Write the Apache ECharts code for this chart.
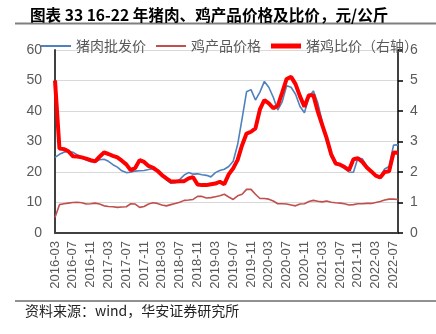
<!DOCTYPE html>
<html>
<head>
<meta charset="utf-8">
<script src="https://cdn.jsdelivr.net/npm/echarts@6/dist/echarts.min.js"></script>
<style>
html,body{margin:0;padding:0;background:#fff;}
#c{width:436px;height:334px;}
</style>
</head>
<body>
<div id="c"></div>
<script>
const categories = [
'2016-03','2016-04','2016-05','2016-06','2016-07','2016-08','2016-09','2016-10','2016-11','2016-12',
'2017-01','2017-02','2017-03','2017-04','2017-05','2017-06','2017-07','2017-08','2017-09','2017-10','2017-11','2017-12',
'2018-01','2018-02','2018-03','2018-04','2018-05','2018-06','2018-07','2018-08','2018-09','2018-10','2018-11','2018-12',
'2019-01','2019-02','2019-03','2019-04','2019-05','2019-06','2019-07','2019-08','2019-09','2019-10','2019-11','2019-12',
'2020-01','2020-02','2020-03','2020-04','2020-05','2020-06','2020-07','2020-08','2020-09','2020-10','2020-11','2020-12',
'2021-01','2021-02','2021-03','2021-04','2021-05','2021-06','2021-07','2021-08','2021-09','2021-10','2021-11','2021-12',
'2022-01','2022-02','2022-03','2022-04','2022-05','2022-06','2022-07','2022-08'
];
// 猪肉批发价 (元/公斤, left axis)
const porkPrice = [
24.8,25.8,26.5,26.8,26.5,25.6,24.7,23.9,23.4,23.3,
24.0,24.2,23.5,22.4,21.6,20.4,19.8,19.9,20.3,20.4,
20.5,20.8,21.1,20.6,19.3,17.4,16.3,16.5,17.6,19.0,
19.8,19.3,19.4,19.1,18.9,18.4,19.8,20.5,20.9,21.8,
23.5,29.0,37.5,46.3,47.0,43.6,46.2,49.7,47.8,44.5,
40.3,43.0,48.3,47.8,45.5,41.5,39.4,44.7,46.6,42.6,
36.5,30.0,25.0,22.8,22.2,21.2,20.0,19.9,24.6,24.3,
22.0,20.2,18.7,18.4,21.0,21.8,28.8,28.9
];
// 鸡产品价格 (元/公斤, left axis)
const chickenPrice = [
5.05,9.3,9.6,9.8,10.0,10.1,9.9,9.5,9.6,9.8,
9.5,8.9,8.7,8.6,8.4,8.5,8.6,9.6,9.5,8.4,
8.7,9.5,9.9,9.7,9.2,8.9,9.3,9.7,10.1,10.7,
10.8,11.0,12.0,12.0,11.5,11.6,11.9,12.2,12.7,11.8,
11.0,12.2,12.7,14.3,14.3,12.7,11.3,11.3,11.1,10.5,
9.6,9.6,9.5,9.2,8.9,9.5,9.6,10.3,10.7,10.4,
10.2,10.5,10.1,9.9,9.8,9.6,9.2,9.3,9.6,9.6,
9.7,9.7,10.0,10.3,10.8,11.1,11.1,11.0
];
// 猪鸡比价 (right axis)
const ratio = [
5.00,2.77,2.75,2.68,2.52,2.51,2.48,2.44,2.39,2.35,
2.50,2.64,2.59,2.53,2.48,2.37,2.25,2.06,2.13,2.39,
2.33,2.20,2.14,2.04,1.90,1.79,1.69,1.69,1.70,1.70,
1.79,1.83,1.59,1.57,1.57,1.60,1.62,1.68,1.60,1.92,
2.12,2.40,2.88,3.26,3.32,3.43,4.05,4.36,4.25,4.09,
4.17,4.60,5.05,5.12,4.88,4.48,4.14,4.52,4.52,3.98,
3.54,3.10,2.58,2.28,2.24,2.16,2.06,2.42,2.45,2.33,
2.15,2.02,1.88,1.82,2.00,2.02,2.64,2.63
];
const seriesNames = ['猪肉批发价','鸡产品价格','猪鸡比价（右轴）'];
const titleText = '图表 33 16-22 年猪肉、鸡产品价格及比价，元/公斤';
const sourceText = '资料来源：wind，华安证券研究所';

const FONT = "'Liberation Sans','Noto Sans CJK SC',sans-serif";
const CJK = "'Noto Sans CJK SC',sans-serif";
const thinIcon = 'path://M0,0M0,14M0,6h30v2h-30z';
const thickIcon = 'path://M0,0M0,14M0,4.5h30v5h-30z';

const chart = echarts.init(document.getElementById('c'), null, {renderer:'canvas'});
chart.setOption({
  animation:false,
  backgroundColor:'#fff',
  title:{
    text:titleText, left:25, top:2,
    textStyle:{fontSize:15.6, fontWeight:'bold', color:'#000', fontFamily:CJK}
  },
  legend:{
    left:36, top:34, itemWidth:30, itemHeight:14, itemGap:10,
    textStyle:{fontSize:14, color:'#595959', fontFamily:CJK},
    data:[
      {name:seriesNames[0], icon:thinIcon},
      {name:seriesNames[1], icon:thinIcon},
      {name:seriesNames[2], icon:thickIcon}
    ]
  },
  graphic:[
    {type:'line', shape:{x1:15,y1:23.5,x2:436,y2:23.5}, style:{stroke:'#808080', lineWidth:2}},
    {type:'line', shape:{x1:15,y1:301,x2:436,y2:301}, style:{stroke:'#222', lineWidth:1.2}},
    {type:'text', left:25, top:304, style:{text:sourceText, fontSize:14, fill:'#222', fontFamily:CJK}}
  ],
  grid:{left:55, right:38, top:50, bottom:101, containLabel:false},
  xAxis:{
    type:'category', data:categories, boundaryGap:false,
    axisLine:{lineStyle:{color:'#404040', width:2}},
    axisTick:{show:false},
    axisLabel:{interval:3, rotate:90, margin:8, fontSize:13, color:'#595959', fontFamily:FONT},
    splitLine:{show:false}
  },
  yAxis:[
    {type:'value', min:0, max:60, interval:10, position:'left',
     axisLine:{show:true, lineStyle:{color:'#404040', width:2}},
     axisTick:{show:false},
     axisLabel:{fontSize:14, color:'#595959', margin:13, fontFamily:FONT},
     splitLine:{show:true, lineStyle:{color:'#d9d9d9', width:1}}},
    {type:'value', min:0, max:6, interval:1, position:'right',
     axisLine:{show:true, lineStyle:{color:'#000', width:1.5}},
     axisTick:{show:true, length:5, lineStyle:{color:'#000', width:1.5}},
     axisLabel:{fontSize:14, color:'#595959', margin:12, fontFamily:FONT},
     splitLine:{show:false}}
  ],
  series:[
    {name:seriesNames[0], type:'line', yAxisIndex:0, data:porkPrice, symbol:'none',
     lineStyle:{color:'#4f81bd', width:1.6}, itemStyle:{color:'#4f81bd'}},
    {name:seriesNames[1], type:'line', yAxisIndex:0, data:chickenPrice, symbol:'none',
     lineStyle:{color:'#c0504d', width:1.6}, itemStyle:{color:'#c0504d'}},
    {name:seriesNames[2], type:'line', yAxisIndex:1, data:ratio, symbol:'none',
     lineStyle:{color:'#ff0000', width:4}, itemStyle:{color:'#ff0000'}}
  ]
});
</script>
</body>
</html>
